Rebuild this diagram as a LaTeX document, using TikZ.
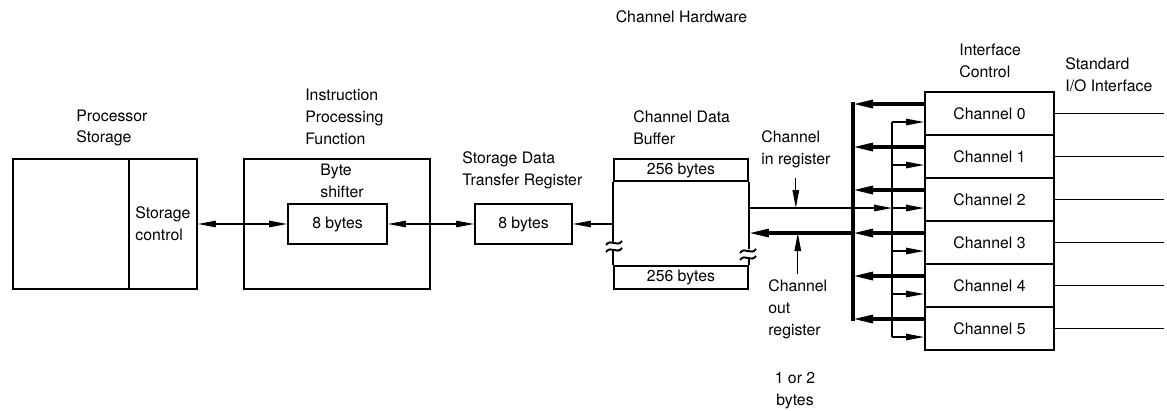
\documentclass[tikz,border=0pt]{standalone}
\usepackage{fontspec}
\setmainfont{TeX Gyre Heros}
\usetikzlibrary{arrows.meta}

\tikzset{
  box/.style={draw, line width=1.1pt, inner sep=0pt},
  lbl/.style={align=left, anchor=west, inner sep=0pt},
  arr/.style={line width=0.7pt, -{Triangle[length=3.6mm,width=1.3mm]}},
  darr/.style={line width=0.7pt, {Triangle[length=3.6mm,width=1.3mm]}-{Triangle[length=3.6mm,width=1.3mm]}},
  bigarr/.style={line width=1.8pt, -{Triangle[length=4mm,width=1.6mm]}},
}

\begin{document}
\begin{tikzpicture}[x=0.02cm, y=-0.02cm, font=\fontsize{9}{12.4}\selectfont]
    \useasboundingbox (0,0) rectangle (1167,411);

    \node[inner sep=0pt] (hwlbl) at (681.5,17) {Channel Hardware};

    % processor storage
    \node[lbl] (pslbl) at (76,128) {Processor\\Storage};
    \node[box, minimum width=2.32cm, minimum height=2.6cm] (ps) at (71,224) {};
    \node[box, minimum width=1.36cm, minimum height=2.6cm, align=left] (sc) at (163,224) {Storage\\control};

    % instruction processing
    \node[lbl] (ipflbl) at (305,117) {Instruction\\Processing\\Function};
    \node[box, minimum width=3.72cm, minimum height=2.6cm] (ipf) at (337,224) {};
    \node[lbl] (bslbl) at (320,181) {Byte\\shifter};
    \node[box, minimum width=1.98cm, minimum height=0.8cm] (bs) at (337.5,224) {8 bytes};

    \node[lbl] (sdtrlbl) at (462,170.5) {Storage Data\\Transfer Register};
    \node[box, minimum width=1.94cm, minimum height=0.8cm] (sdtr) at (523.5,224) {8 bytes};

    % channel data buffer
    \node[lbl] (cdblbl) at (633,128) {Channel Data\\Buffer};
    \node[box, minimum width=2.68cm, minimum height=0.44cm] (buftop) at (681,170) {256 bytes};
    \node[box, minimum width=2.68cm, minimum height=0.46cm] (bufbot) at (681,277.5) {256 bytes};
    \draw[line width=1.1pt] (buftop.south west) -- ++(0,60);
    \draw[line width=1.1pt] (bufbot.north west) -- ++(0,-15);
    \draw[line width=1.1pt] (buftop.south east) -- ++(0,67);
    \draw[line width=1.1pt] (bufbot.north east) -- ++(0,-7);
    \foreach \bx/\by in {614/243, 614/250, 748/251, 748/258}
      \draw[line width=1.1pt] (\bx-8,\by+2) .. controls (\bx-3,\by-5) and (\bx+3,\by+5) .. (\bx+8,\by-2);

    \draw[darr] (sc.east) -- (bs.west);
    \draw[darr] (bs.east) -- (sdtr.west);
    \draw[arr] (sdtr.east -| buftop.west) -- (sdtr.east);

    % interface control
    \node[lbl] (iclbl) at (959,60.5) {Interface\\Control};
    \node[lbl] (siolbl) at (1065,75) {Standard\\I/O Interface};
    \foreach \i in {0,...,5} {
      \node[box, minimum width=2.58cm, minimum height=0.86cm] (ch\i) at (989.5,{113.5+43*\i}) {Channel \i};
      \draw[line width=1.1pt] (ch\i.east) -- ++(109,0);
      \coordinate (o\i) at ([yshift=-0.26cm]ch\i.north west);
      \coordinate (n\i) at ([yshift=-0.62cm]ch\i.north west);
    }

    \coordinate (thk) at (853,0);
    \coordinate (thn) at (892,0);
    \draw[line width=1.8pt, line cap=rect] (thk |- o0) -- (thk |- o5);
    \draw[line width=0.7pt] (thn |- n0) -- (thn |- n5);
    \foreach \i in {0,...,5} {
      \draw[bigarr] (o\i) -- (thk |- o\i);
      \draw[arr] (thn |- n\i) -- (n\i);
    }
    \draw[bigarr] (thk |- o3) -- (o3 -| buftop.east);
    \draw[arr] (n2 -| buftop.east) -- (thn |- n2);

    % registers
    \node[lbl] (inreg) at (761,149.5) {Channel\\in register};
    \node[lbl] (outreg) at (768,309.5) {Channel\\out\\register};
    \node[align=center, inner sep=0pt] (nbytes) at (795,391) {1 or 2\\bytes};
    \draw[arr] ([yshift=-0.2cm]inreg.south) -- (inreg.south |- n2);
    \draw[arr] ([yshift=0.12cm]outreg.north) -- (outreg.north |- o3);

\end{tikzpicture}
\end{document}
